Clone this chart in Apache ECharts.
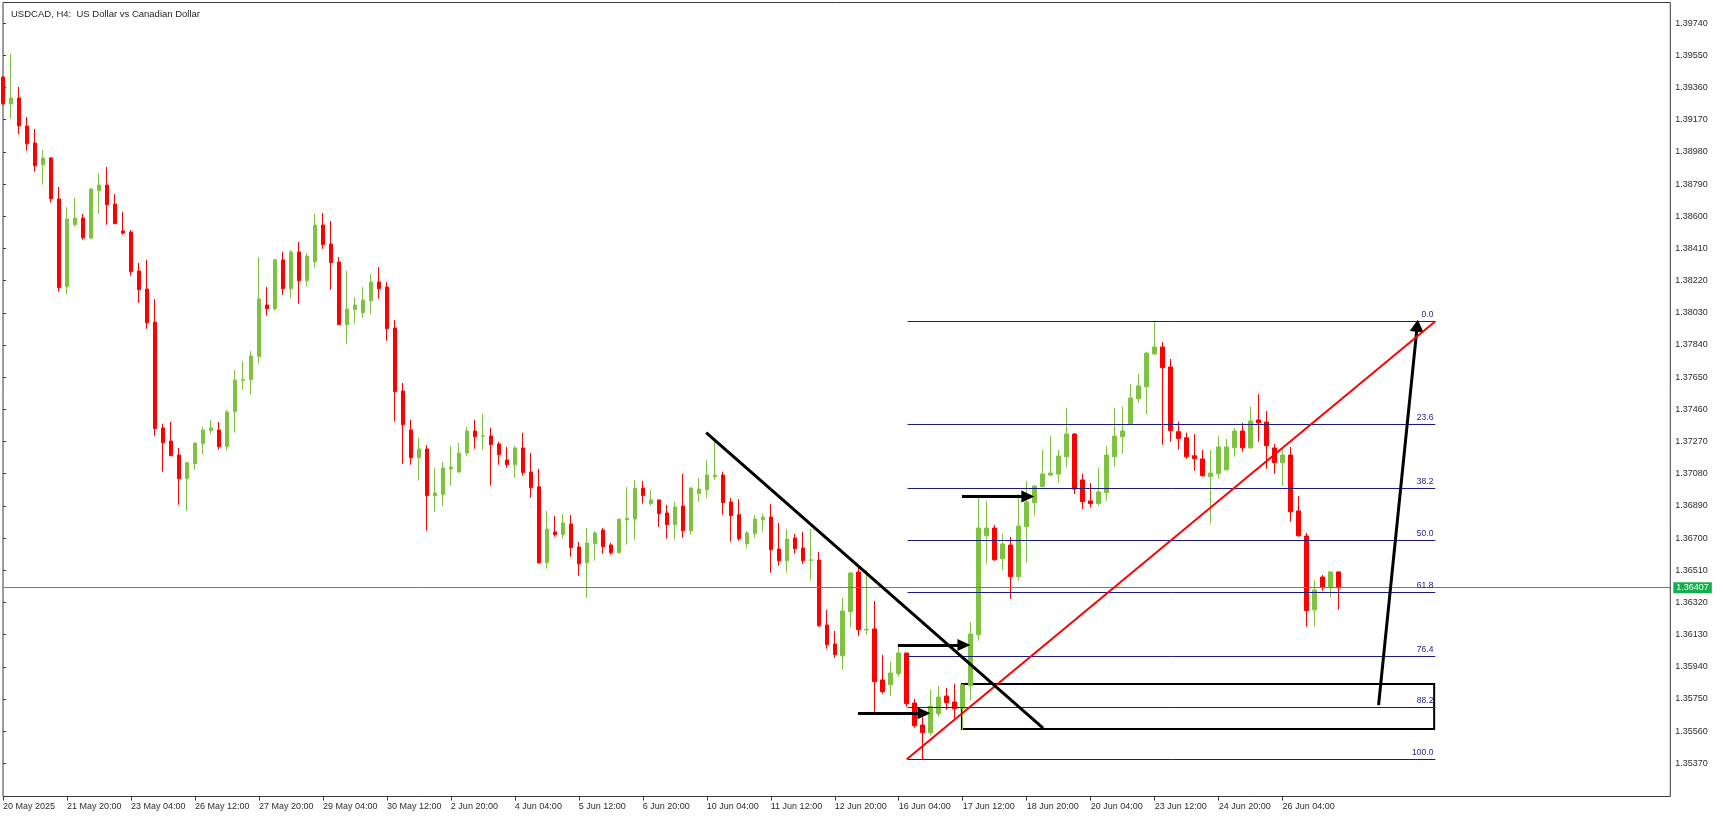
<!DOCTYPE html>
<html><head><meta charset="utf-8">
<script src="https://cdn.jsdelivr.net/npm/echarts@6/dist/echarts.min.js"></script>
<style>html,body{margin:0;padding:0;background:#fff}#c{width:1723px;height:816px}</style>
</head><body><div id="c"></div>
<script>
// H4 candles, index 0 = 20 May 2025 12:00
const opens = [1.39422,1.39264,1.39298,1.39133,1.39032,1.38904,1.38944,1.38702,1.38184,1.38550,
1.38589,1.38471,1.38751,1.38784,1.38672,1.38513,1.38507,1.38277,1.38170,1.37975,
1.37350,1.37273,1.37190,1.37050,1.37139,1.37257,1.37334,1.37338,1.37239,1.37446,
1.37631,1.37635,1.37771,1.38076,1.38054,1.38342,1.38172,1.38389,1.38219,1.38331,
1.38548,1.38436,1.38330,1.37960,1.38048,1.38030,1.38101,1.38212,1.38182,1.37940,
1.37568,1.37338,1.37174,1.37226,1.36950,1.36956,1.37108,1.37090,1.37202,1.37332,
1.37302,1.37302,1.37255,1.37161,1.37133,1.37232,1.37090,1.37003,1.36554,1.36736,
1.36720,1.36783,1.36647,1.36554,1.36667,1.36747,1.36659,1.36613,1.36807,1.36812,
1.36995,1.36903,1.36925,1.36848,1.36779,1.36889,1.36743,1.36962,1.36985,1.37062,
1.37072,1.36913,1.36838,1.36667,1.36726,1.36808,1.36824,1.36635,1.36566,1.36700,
1.36641,1.36568,1.36570,1.36187,1.36074,1.36005,1.36265,1.36499,1.36157,1.36163,
1.35862,1.35834,1.35899,1.36021,1.35726,1.35596,1.35551,1.35663,1.35767,1.35732,
1.35692,1.35828,1.36129,1.36714,1.36759,1.36578,1.36659,1.36472,1.36767,1.36909,
1.37003,1.37072,1.37078,1.37180,1.37314,1.37043,1.36919,1.36903,1.36968,1.37180,
1.37298,1.37375,1.37523,1.37593,1.37787,1.37828,1.37710,1.37328,1.37292,1.37186,
1.37167,1.37062,1.37080,1.37103,1.37233,1.37332,1.37233,1.37397,1.37385,1.37232,
1.37145,1.37190,1.36860,1.36712,1.36277,1.36470,1.36407,1.36500];
const closes = [1.39264,1.39298,1.39134,1.39028,1.38898,1.38944,1.38703,1.38178,1.38584,1.38589,
1.38473,1.38761,1.38784,1.38668,1.38556,1.38501,1.38272,1.38166,1.37971,1.37346,
1.37263,1.37186,1.37050,1.37145,1.37261,1.37338,1.37350,1.37239,1.37444,1.37633,
1.37635,1.37775,1.38111,1.38054,1.38343,1.38172,1.38389,1.38219,1.38365,1.38548,
1.38432,1.38326,1.37960,1.38052,1.38076,1.38105,1.38212,1.38172,1.37936,1.37564,
1.37369,1.37174,1.37226,1.36950,1.36966,1.37114,1.37119,1.37202,1.37332,1.37298,
1.37304,1.37251,1.37192,1.37133,1.37232,1.37086,1.36997,1.36554,1.36753,1.36720,
1.36789,1.36643,1.36548,1.36671,1.36730,1.36649,1.36613,1.36812,1.36818,1.36995,
1.36950,1.36925,1.36844,1.36779,1.36883,1.36743,1.36995,1.36989,1.37072,1.37072,
1.36909,1.36832,1.36696,1.36730,1.36812,1.36824,1.36631,1.36566,1.36694,1.36637,
1.36566,1.36572,1.36182,1.36070,1.36011,1.36269,1.36494,1.36159,1.36161,1.35852,
1.35793,1.35903,1.36021,1.35722,1.35592,1.35551,1.35708,1.35761,1.35728,1.35692,
1.35832,1.36133,1.36759,1.36759,1.36572,1.36665,1.36472,1.36771,1.36913,1.37007,
1.37078,1.37084,1.37184,1.37314,1.36989,1.36915,1.36903,1.36972,1.37190,1.37302,
1.37332,1.37527,1.37598,1.37792,1.37828,1.37706,1.37334,1.37287,1.37180,1.37168,
1.37068,1.37084,1.37238,1.37238,1.37332,1.37233,1.37391,1.37381,1.37245,1.37145,
1.37190,1.36855,1.36714,1.36271,1.36393,1.36407,1.36500,1.36407];
const lows = [1.39257,1.39174,1.39085,1.38987,1.38863,1.38786,1.38680,1.38154,1.38137,1.38538,
1.38461,1.38465,1.38615,1.38550,1.38555,1.38491,1.38249,1.38089,1.37936,1.37304,
1.37092,1.37185,1.36897,1.36860,1.37103,1.37192,1.37316,1.37222,1.37216,1.37322,
1.37576,1.37546,1.37729,1.38013,1.38042,1.38137,1.38119,1.38084,1.38184,1.38296,
1.38408,1.38166,1.37959,1.37847,1.37965,1.38001,1.38024,1.38113,1.37865,1.37387,
1.37139,1.37133,1.37039,1.36743,1.36856,1.36891,1.37009,1.37084,1.37186,1.37227,
1.37222,1.37009,1.37133,1.37115,1.37056,1.37068,1.36938,1.36548,1.36519,1.36708,
1.36696,1.36590,1.36478,1.36346,1.36566,1.36608,1.36602,1.36608,1.36661,1.36690,
1.36903,1.36891,1.36767,1.36696,1.36690,1.36702,1.36720,1.36915,1.36938,1.37044,
1.36838,1.36678,1.36684,1.36637,1.36702,1.36737,1.36495,1.36537,1.36495,1.36608,
1.36548,1.36448,1.36177,1.36047,1.35993,1.35923,1.36171,1.36123,1.36129,1.35673,
1.35781,1.35769,1.35881,1.35704,1.35580,1.35395,1.35533,1.35645,1.35686,1.35633,
1.35567,1.35740,1.36094,1.36548,1.36566,1.36513,1.36342,1.36448,1.36554,1.36832,
1.37002,1.37066,1.37025,1.37115,1.36960,1.36871,1.36883,1.36891,1.36919,1.37121,
1.37198,1.37374,1.37499,1.37428,1.37781,1.37251,1.37269,1.37222,1.37168,1.37098,
1.37062,1.36785,1.37050,1.37098,1.37180,1.37210,1.37227,1.37269,1.37109,1.37080,
1.37009,1.36797,1.36708,1.36177,1.36177,1.36389,1.36348,1.36277];
const highs = [1.39425,1.39558,1.39363,1.39186,1.39115,1.38991,1.38950,1.38773,1.38654,1.38708,
1.38613,1.38767,1.38855,1.38891,1.38731,1.38625,1.38519,1.38324,1.38342,1.38111,
1.37373,1.37385,1.37232,1.37151,1.37263,1.37356,1.37397,1.37385,1.37456,1.37692,
1.37745,1.37804,1.38359,1.38182,1.38349,1.38389,1.38401,1.38448,1.38383,1.38613,
1.38619,1.38572,1.38359,1.38277,1.38123,1.38182,1.38259,1.38300,1.38212,1.37987,
1.37615,1.37397,1.37291,1.37249,1.37114,1.37149,1.37243,1.37261,1.37356,1.37397,
1.37432,1.37350,1.37267,1.37238,1.37243,1.37322,1.37202,1.37109,1.36860,1.36830,
1.36842,1.36836,1.36677,1.36759,1.36742,1.36759,1.36671,1.36813,1.37001,1.37042,
1.37037,1.36984,1.36926,1.36895,1.36913,1.37078,1.37001,1.37054,1.37161,1.37279,
1.37090,1.36936,1.36930,1.36742,1.36836,1.36842,1.36901,1.36789,1.36753,1.36724,
1.36736,1.36753,1.36618,1.36275,1.36151,1.36346,1.36499,1.36523,1.36511,1.36328,
1.36011,1.35970,1.36068,1.36022,1.35750,1.35667,1.35803,1.35826,1.35815,1.35838,
1.35838,1.36204,1.36936,1.36919,1.36777,1.36724,1.36706,1.36960,1.37037,1.37013,
1.37220,1.37302,1.37220,1.37468,1.37320,1.37078,1.37025,1.37114,1.37243,1.37468,
1.37474,1.37609,1.37668,1.37798,1.37980,1.37857,1.37757,1.37387,1.37322,1.37314,
1.37220,1.37220,1.37302,1.37285,1.37350,1.37379,1.37474,1.37550,1.37450,1.37255,
1.37226,1.37238,1.36948,1.36730,1.36452,1.36482,1.36501,1.36501];

const xTickLabels = ['20 May 2025','21 May 20:00','23 May 04:00','26 May 12:00','27 May 20:00','29 May 04:00',
'30 May 12:00','2 Jun 20:00','4 Jun 04:00','5 Jun 12:00','6 Jun 20:00','10 Jun 04:00','11 Jun 12:00',
'12 Jun 20:00','16 Jun 04:00','17 Jun 12:00','18 Jun 20:00','20 Jun 04:00','23 Jun 12:00','24 Jun 20:00','26 Jun 04:00'];
const xTickStep = 8;
const yTicks = [1.39740,1.39550,1.39360,1.39170,1.38980,1.38790,1.38600,1.38410,1.38220,1.38030,1.37840,1.37650,
1.37460,1.37270,1.37080,1.36890,1.36700,1.36510,1.36320,1.36130,1.35940,1.35750,1.35560,1.35370];
const lastPrice = 1.36407;

const fibHigh = 1.37980, fibLow = 1.35394;
const fibRatios = [0, 23.6, 38.2, 50, 61.8, 76.4, 88.2, 100];
const fibSpan = [113.1, 179.1];
const redTrend = [[113.0, 1.35394], [179.1, 1.37980]];
const blackTrend = [[87.92, 1.37322], [130.05, 1.35577]];
const zoneBox = [[119.9, 1.35838], [178.95, 1.35573]];
const hArrows = [
  [[119.9, 1.36946], [128.15, 1.36946]],
  [[111.9, 1.36069], [120.15, 1.36069]],
  [[106.9, 1.35665], [115.15, 1.35665]]
];
const diagArrow = [[172.0, 1.35714], [176.83, 1.37953]];

const X_MIN = 0, X_MAX = 208.475;
const FONT = 'Liberation Sans';
const candles = opens.map((o, i) => [i, o, closes[i], lows[i], highs[i]]);
const xTickValues = xTickLabels.map((_, k) => k * xTickStep);

const fibLines = fibRatios.map(r => {
  const p = fibHigh - r / 100 * (fibHigh - fibLow);
  return [
    { coord: [fibSpan[0], p], label: { formatter: r.toFixed(1) } },
    { coord: [fibSpan[1], p] }
  ];
});

const arrowLines = hArrows.map(a => [
  { coord: a[0], symbol: 'none' },
  { coord: a[1], symbol: 'triangle', symbolSize: [12, 13] }
]);
arrowLines.push([
  { coord: diagArrow[0], symbol: 'none' },
  { coord: diagArrow[1], symbol: 'triangle', symbolSize: [14, 12] }
]);

const chart = echarts.init(document.getElementById('c'), null, { renderer: 'canvas' });
chart.setOption({
  animation: false,
  backgroundColor: '#ffffff',
  title: {
    text: 'USDCAD, H4:  US Dollar vs Canadian Dollar',
    left: 6, top: 4,
    textStyle: { fontSize: 9.5, fontWeight: 'normal', color: '#1e1e1e', fontFamily: FONT }
  },
  grid: {
    left: 2.5, right: 52.7, top: 2.5, bottom: 19.5,
    show: true, borderColor: '#3a3a3a', borderWidth: 1, backgroundColor: '#ffffff'
  },
  xAxis: {
    type: 'value', min: X_MIN, max: X_MAX,
    axisLine: { show: false },
    splitLine: { show: false },
    axisTick: { show: true, customValues: xTickValues, length: 4, lineStyle: { color: '#3a3a3a' } },
    axisLabel: {
      customValues: xTickValues,
      formatter: v => xTickLabels[Math.round(v / xTickStep)] || '',
      align: 'left', margin: 6, color: '#2a2a2a', fontSize: 9, fontFamily: FONT
    }
  },
  yAxis: {
    type: 'value', position: 'right', min: 1.35174, max: 1.39862,
    axisLine: { show: false },
    splitLine: { show: false },
    axisTick: { show: true, customValues: yTicks, length: 3, lineStyle: { color: '#3a3a3a' } },
    axisLabel: {
      customValues: yTicks,
      formatter: v => v.toFixed(5),
      margin: 5, color: '#2a2a2a', fontSize: 9, fontFamily: FONT
    }
  },
  series: [
    {
      type: 'candlestick',
      data: candles,
      barWidth: 4,
      clip: true,
      itemStyle: {
        color: '#7fc241', color0: '#ff0000',
        borderColor: '#7fc241', borderColor0: '#ff0000', borderWidth: 1
      },
      z: 2
    },
    {
      type: 'line', name: 'price', data: [], z: 3,
      markLine: {
        silent: true, symbol: 'none', animation: false,
        lineStyle: { color: '#1cb24b', width: 1, type: 'solid' },
        label: {
          position: 'end', formatter: lastPrice.toFixed(5), distance: 3,
          backgroundColor: '#12b04a', color: '#ffffff', padding: [1, 3],
          fontSize: 9, fontFamily: FONT
        },
        data: [[{ coord: [X_MIN, lastPrice] }, { coord: [X_MAX, lastPrice] }]]
      }
    },
    {
      type: 'line', name: 'fib', data: [], z: 3,
      markLine: {
        silent: true, symbol: 'none', animation: false,
        lineStyle: { color: '#1a1a80', width: 1, type: 'solid' },
        label: { position: 'insideEndTop', distance: 2, color: '#1a1a80', fontSize: 8.5, fontFamily: FONT },
        data: fibLines
      }
    },
    {
      type: 'line', name: 'zone', data: [], z: 4,
      markArea: {
        silent: true,
        itemStyle: { color: 'rgba(0,0,0,0)', borderColor: '#000000', borderWidth: 2 },
        data: [[{ coord: zoneBox[0] }, { coord: zoneBox[1] }]]
      }
    },
    {
      type: 'line', name: 'redTrend', data: redTrend, z: 5,
      showSymbol: false, symbol: 'none', silent: true,
      lineStyle: { color: '#ff0000', width: 2 }
    },
    {
      type: 'line', name: 'blackTrend', data: blackTrend, z: 5,
      showSymbol: false, symbol: 'none', silent: true,
      lineStyle: { color: '#000000', width: 3 }
    },
    {
      type: 'line', name: 'arrows', data: [], z: 6,
      markLine: {
        silent: true, animation: false,
        lineStyle: { color: '#000000', width: 3, type: 'solid' },
        itemStyle: { color: '#000000' },
        label: { show: false },
        data: arrowLines
      }
    }
  ]
});
</script>
</body></html>
